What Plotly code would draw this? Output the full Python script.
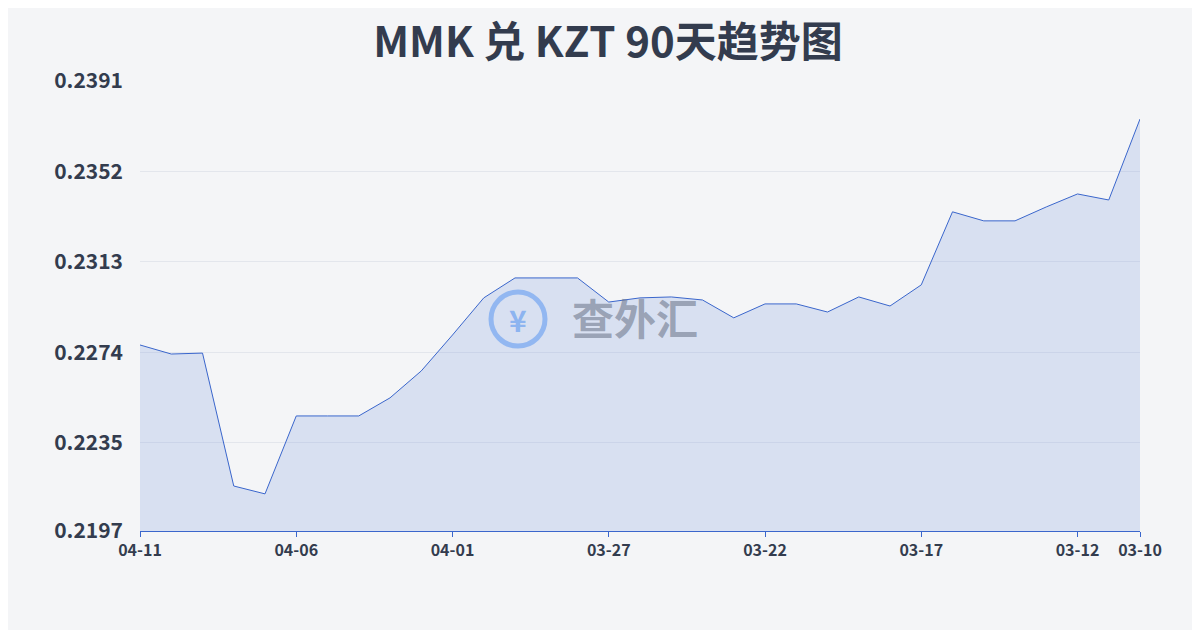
import plotly.graph_objects as go

# dates, latest first (axis runs from 04-11 on the left to 03-10 on the right)
dates = ["04-11", "04-10", "04-09", "04-08", "04-07", "04-06", "04-05", "04-04",
         "04-03", "04-02", "04-01", "03-31", "03-30", "03-29", "03-28", "03-27",
         "03-26", "03-25", "03-24", "03-23", "03-22", "03-21", "03-20", "03-19",
         "03-18", "03-17", "03-16", "03-15", "03-14", "03-13", "03-12", "03-11", "03-10"]
rates = [0.22772, 0.22733, 0.22737, 0.22164, 0.22130, 0.22466, 0.22466, 0.22466,
         0.22544, 0.22660, 0.22815, 0.22975, 0.23061, 0.23061, 0.23061, 0.22957,
         0.22975, 0.22979, 0.22966, 0.22889, 0.22949, 0.22949, 0.22914, 0.22979,
         0.22940, 0.23031, 0.23346, 0.23307, 0.23307, 0.23367, 0.23423, 0.23397, 0.23746]
tick_dates = ["04-11", "04-06", "04-01", "03-27", "03-22", "03-17", "03-12", "03-10"]
y_ticks = [0.2197, 0.2235, 0.2274, 0.2313, 0.2352, 0.2391]

fig = go.Figure()
fig.add_trace(go.Scatter(
    x=dates, y=rates, mode="lines", fill="tozeroy",
    line=dict(color="#3a66cc", width=1),
    fillcolor="rgba(120,150,225,0.22)",
))

fig.update_layout(
    width=1200, height=630,
    paper_bgcolor="#f4f5f7", plot_bgcolor="rgba(0,0,0,0)",
    margin=dict(l=132, r=68, t=73, b=107),
    showlegend=False,
    title=dict(text="<b>MMK 兑 KZT 90天趋势图</b>", x=0.5, y=0.945, xanchor="center", yanchor="middle",
               font=dict(size=42, color="#333c4e", family="Noto Sans CJK SC")),
    font=dict(family="Noto Sans CJK SC", color="#333c4e"),
)
fig.update_xaxes(
    type="category", tickvals=tick_dates, ticktext=[f"<b>{t}</b>" for t in tick_dates],
    showgrid=False, showline=True, linecolor="#3a66cc", ticks="outside",
    tickcolor="#3a66cc", ticklen=5, tickangle=0,
    tickfont=dict(size=16, color="#333c4e", family="Noto Sans CJK SC"),
    range=[0, len(dates) - 1],
)
fig.update_yaxes(
    range=[0.2197, 0.2391], tickvals=y_ticks, ticktext=[f"<b>{v:.4f}</b>" for v in y_ticks],
    showgrid=True, gridcolor="#e3e6ec", zeroline=False,
    tickfont=dict(size=21, color="#333c4e", family="Noto Sans CJK SC"),
    ticklabelstandoff=16,
)
# watermark
fig.add_shape(type="circle", xref="paper", yref="paper", xsizemode="pixel", ysizemode="pixel",
              xanchor=0.378, yanchor=0.471, x0=-27, x1=27, y0=-27, y1=27,
              line=dict(color="rgba(90,150,240,0.55)", width=5))
fig.add_annotation(text="<b>¥</b>", x=0.378, y=0.471, xref="paper", yref="paper",
                   showarrow=False, font=dict(size=30, color="rgba(90,150,240,0.6)"))
fig.add_annotation(text="<b>查外汇</b>", x=0.495, y=0.476, xref="paper", yref="paper",
                   showarrow=False, font=dict(size=42, color="rgba(100,110,130,0.55)"))

fig.write_html("out.html")
